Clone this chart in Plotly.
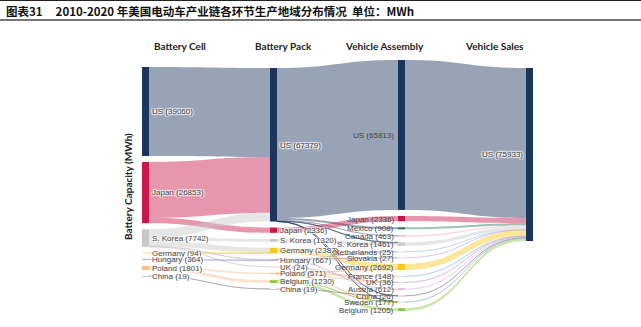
import plotly.graph_objects as go

# ---- data (MWh) ----
stages = ["Battery Cell", "Battery Pack", "Vehicle Assembly", "Vehicle Sales"]

cell_names = ["US", "Japan", "S. Korea", "Germany", "Hungary", "Poland", "China"]
cell_values = [39060, 26853, 7742, 94, 364, 1801, 19]

pack_names = ["US", "Japan", "S. Korea", "Germany", "Hungary", "UK", "Poland", "Belgium", "China"]
pack_values = [67379, 2336, 1320, 2387, 667, 24, 571, 1230, 19]

assembly_names = ["US", "Japan", "Mexico", "Canada", "S. Korea", "Netherlands", "Slovakia",
                  "Germany", "France", "UK", "Austria", "China", "Sweden", "Belgium"]
assembly_values = [65813, 2336, 908, 463, 1461, 25, 27, 2692, 148, 36, 612, 26, 177, 1205]

sales_names = ["US"]
sales_values = [75933]

# flows: (source country, target country, MWh)
cell_to_pack = [
    ("US", "US", 39060),
    ("Japan", "US", 24517), ("Japan", "Japan", 2336),
    ("S. Korea", "US", 3802), ("S. Korea", "S. Korea", 1320), ("S. Korea", "Germany", 2293),
    ("S. Korea", "Hungary", 303), ("S. Korea", "UK", 24),
    ("Germany", "Germany", 94),
    ("Hungary", "Hungary", 364),
    ("Poland", "Poland", 571), ("Poland", "Belgium", 1230),
    ("China", "China", 19),
]
pack_to_assembly = [
    ("US", "US", 65813), ("US", "Mexico", 908), ("US", "Canada", 463), ("US", "S. Korea", 141),
    ("US", "Sweden", 47), ("US", "China", 7),
    ("Japan", "Japan", 2336),
    ("S. Korea", "S. Korea", 1320),
    ("Germany", "Germany", 2387),
    ("Hungary", "Austria", 612), ("Hungary", "Slovakia", 27), ("Hungary", "Netherlands", 25),
    ("UK", "UK", 24),
    ("Poland", "Germany", 305), ("Poland", "France", 148), ("Poland", "Sweden", 106), ("Poland", "UK", 12),
    ("Belgium", "Belgium", 1205), ("Belgium", "Sweden", 24),
    ("China", "China", 19),
]
assembly_to_sales = [(name, "US", v) for name, v in zip(assembly_names, assembly_values)]

# ---- styling ----
country_colors = {
    "US": (27, 54, 93), "Japan": (200, 23, 74), "S. Korea": (200, 200, 200),
    "Germany": (248, 200, 28), "Hungary": (168, 156, 208), "Poland": (246, 190, 140),
    "China": (140, 140, 140), "UK": (196, 168, 216), "Belgium": (141, 198, 63),
    "Mexico": (30, 122, 85), "Canada": (242, 155, 176), "Netherlands": (169, 199, 232),
    "Slovakia": (200, 184, 224), "France": (159, 195, 232), "Austria": (229, 163, 214),
    "Sweden": (157, 191, 227),
}

W, H = 641, 327
PAD, THICK = 6, 7
# sankey domain in pixels
DX0, DX1 = 142, 533
DY0, DY1 = 60, 311
DW, DH = DX1 - DX0, DY1 - DY0
# top of each column's node stack, in pixels from the figure top
column_tops = [67, 68, 60, 68]
LABEL_FONT = dict(family="Liberation Sans, Arial", size=8, color="#444444")

columns = [(cell_names, cell_values), (pack_names, pack_values),
           (assembly_names, assembly_values), (sales_names, sales_values)]
stage_flows = [cell_to_pack, pack_to_assembly, assembly_to_sales]

# node value as the layout sees it: max(inflow, outflow)
inflow, outflow = {}, {}
for ci, flows in enumerate(stage_flows):
    for s, t, v in flows:
        outflow[(ci, s)] = outflow.get((ci, s), 0) + v
        inflow[(ci + 1, t)] = inflow.get((ci + 1, t), 0) + v
node_size = {}
for ci, (names, _) in enumerate(columns):
    for n in names:
        node_size[(ci, n)] = max(inflow.get((ci, n), 0), outflow.get((ci, n), 0))

# same vertical scale rule the sankey layout uses
ky = min((DH - (len(names) - 1) * PAD) / sum(node_size[(ci, n)] for n in names)
         for ci, (names, _) in enumerate(columns))

labels, colors, xs, ys, index = [], [], [], [], {}
annotations = []
for ci, (names, values) in enumerate(columns):
    cx = (THICK / 2 + ci * (DW - THICK) / (len(columns) - 1)) / DW
    top = column_tops[ci]
    for n, v in zip(names, values):
        h = node_size[(ci, n)] * ky
        cy_px = top + h / 2
        top += h + PAD
        index[(ci, n)] = len(labels)
        text = f"{n} ({v})"
        if ci == 2:
            # assembly column: label sits on the left of its node
            labels.append("")
            annotations.append(dict(
                x=(DX0 + cx * DW - THICK / 2 - 2) / W, y=1 - (cy_px + 0.5) / H,
                xref="paper", yref="paper", xanchor="right", yanchor="middle",
                text=text, showarrow=False, font=LABEL_FONT))
        else:
            labels.append(text)
        xs.append(cx)
        ys.append((cy_px - DY0) / DH)
        r, g, b = country_colors[n]
        colors.append(f"rgb({r},{g},{b})")

src, tgt, val, lcol = [], [], [], []
for ci, flows in enumerate(stage_flows):
    for s, t, v in flows:
        src.append(index[(ci, s)])
        tgt.append(index[(ci + 1, t)])
        val.append(v)
        r, g, b = country_colors[s]
        lcol.append(f"rgba({r},{g},{b},0.45)")

fig = go.Figure(go.Sankey(
    arrangement="fixed",
    domain=dict(x=[DX0 / W, DX1 / W], y=[1 - DY1 / H, 1 - DY0 / H]),
    node=dict(label=labels, color=colors, pad=PAD, thickness=THICK, x=xs, y=ys,
              line=dict(width=0)),
    link=dict(source=src, target=tgt, value=val, color=lcol),
    textfont=LABEL_FONT,
    hoverinfo="none",
))

header_x = [180, 283, 384, 494]
for hx, s in zip(header_x, stages):
    annotations.append(dict(x=hx / W, y=1 - 46 / H, xref="paper", yref="paper",
                            xanchor="center", yanchor="middle", text=f"<b>{s}</b>",
                            showarrow=False,
                            font=dict(family="Lato, Open Sans", size=10, color="#222222")))
annotations.append(dict(x=128 / W, y=1 - 187 / H, xref="paper", yref="paper",
                        xanchor="center", yanchor="middle",
                        text="<b>Battery Capacity (MWh)</b>", textangle=-90, showarrow=False,
                        font=dict(family="Lato, Open Sans", size=10, color="#222222")))
annotations.append(dict(x=4 / W, y=1 - 11 / H, xref="paper", yref="paper",
                        xanchor="left", yanchor="middle",
                        text="<b>图表31\u00a0\u00a0\u00a0\u00a0\u00a02010-2020\u00a0年美国电动车产业链各环节生产地域分布情况\u00a0\u00a0单位：MWh</b>",
                        showarrow=False,
                        font=dict(family="Noto Sans CJK SC", size=11.5, color="#111111")))

shapes = [
    dict(type="line", xref="paper", yref="paper", x0=0, x1=1, y0=1 - 0.5 / H, y1=1 - 0.5 / H,
         line=dict(color="#222222", width=1)),
    dict(type="line", xref="paper", yref="paper", x0=0, x1=1, y0=1 - 20 / H, y1=1 - 20 / H,
         line=dict(color="#777777", width=2)),
]

fig.update_layout(width=W, height=H, margin=dict(l=0, r=0, t=0, b=0),
                  paper_bgcolor="white", annotations=annotations, shapes=shapes)

fig.write_html("out.html")
